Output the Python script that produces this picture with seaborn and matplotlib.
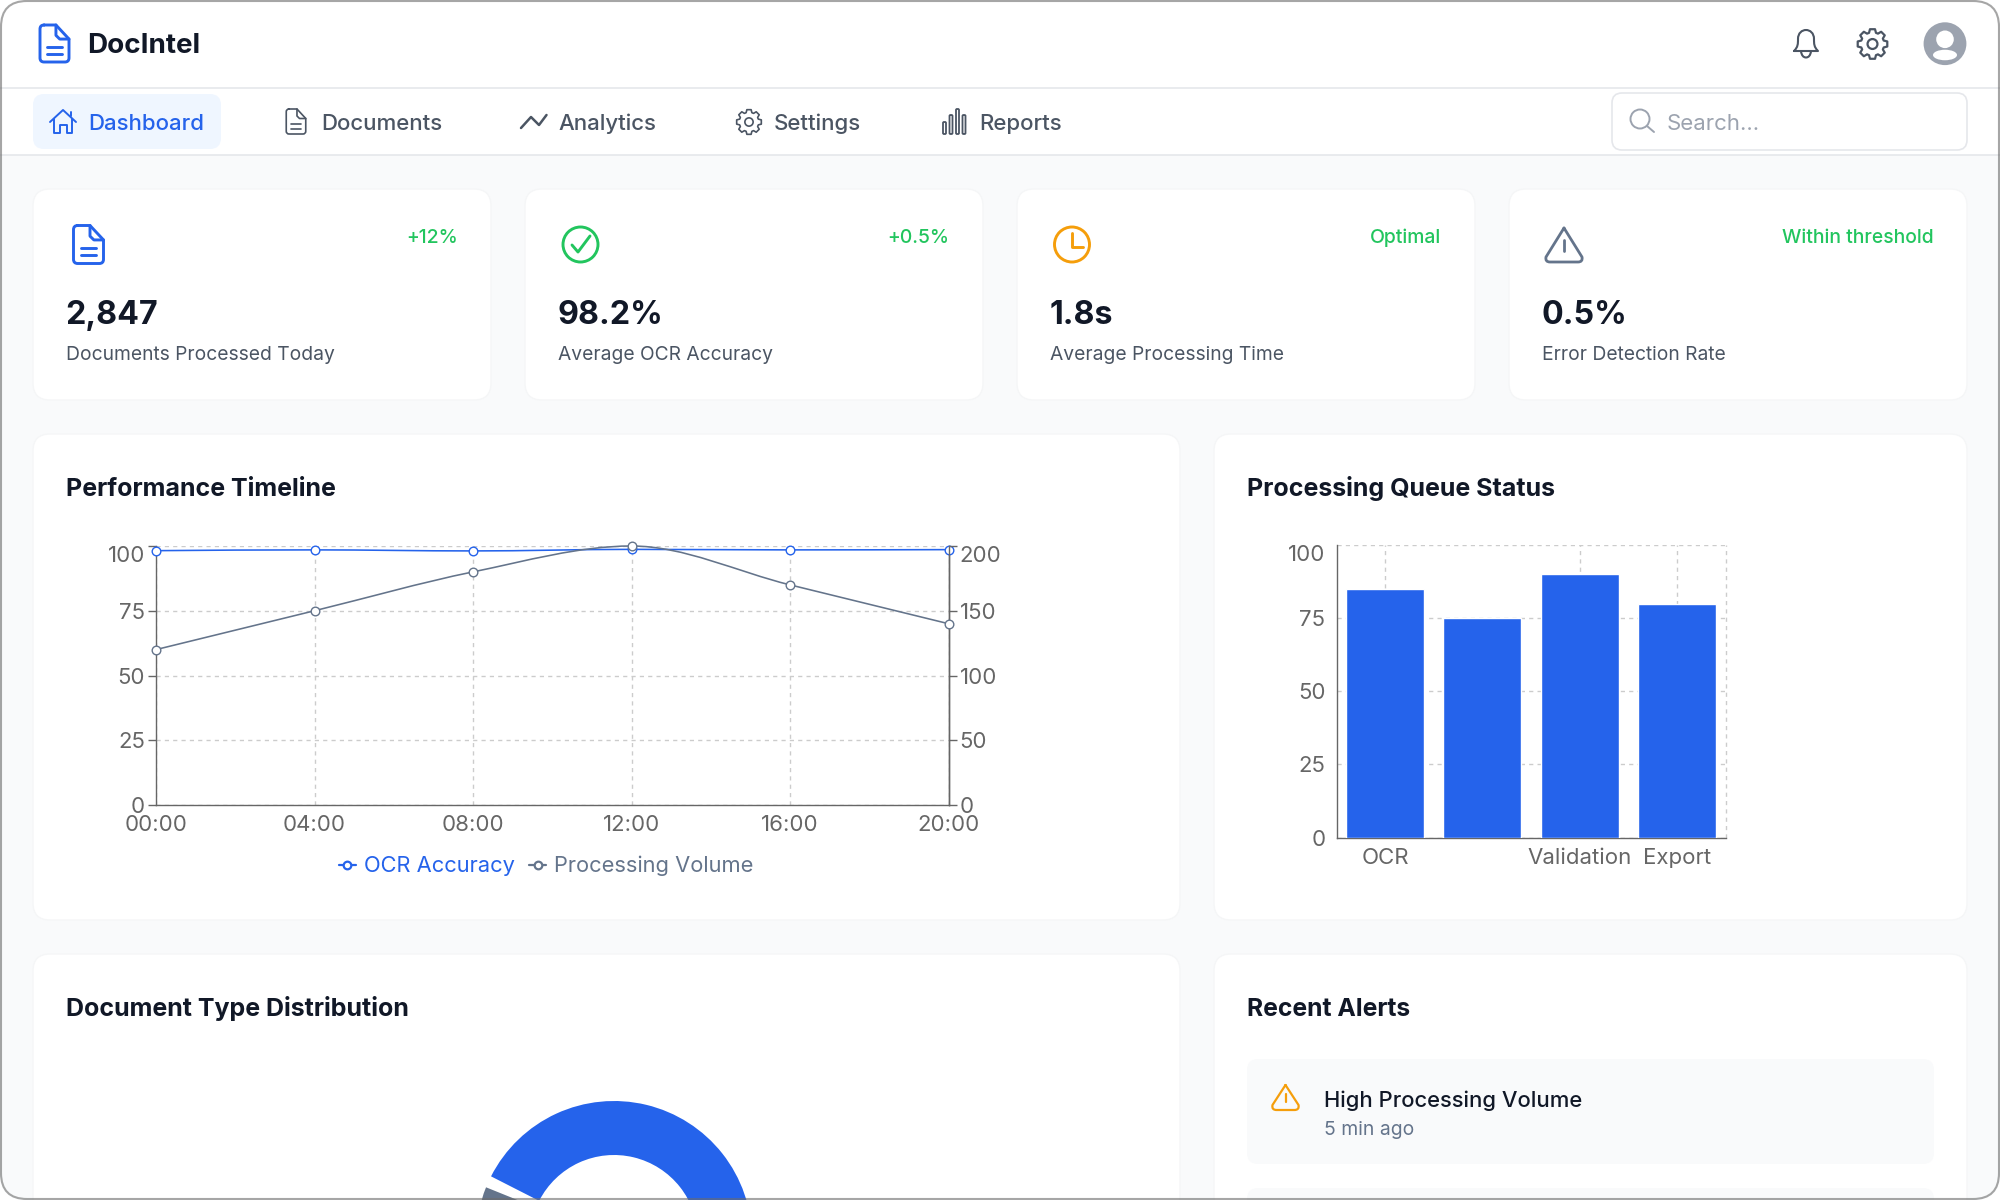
import numpy as np
import matplotlib
matplotlib.use("Agg")
import matplotlib.pyplot as plt
from matplotlib.patches import FancyBboxPatch, Circle, PathPatch, Rectangle, Polygon, Ellipse
from matplotlib.path import Path
from matplotlib.lines import Line2D
import seaborn as sns

# ---------- data ----------
time_labels = ["00:00", "04:00", "08:00", "12:00", "16:00", "20:00"]
ocr_accuracy = [98.2, 98.5, 98.1, 98.7, 98.5, 98.6]
processing_volume = [120, 150, 180, 200, 170, 140]
left_ticks = [0, 25, 50, 75, 100]
right_ticks = [0, 50, 100, 150, 200]

queue_stages = ["OCR", " ", "Validation", "Export"]
queue_values = [85, 75, 90, 80]
queue_ticks = [0, 25, 50, 75, 100]

doc_type_values = [45, 25, 15, 15]

nav_labels = ["Dashboard", "Documents", "Analytics", "Settings", "Reports"]
kpi_values = ["2,847", "98.2%", "1.8s", "0.5%"]
kpi_labels = ["Documents Processed Today", "Average OCR Accuracy",
              "Average Processing Time", "Error Detection Rate"]
kpi_badges = ["+12%", "+0.5%", "Optimal", "Within threshold"]

# ---------- style ----------
BLUE = "#2563eb"
SLATE = "#64748b"
DARK = "#111827"
GRAY = "#4b5563"
GREEN = "#22c55e"
AMBER = "#f59e0b"
MUTED = "#9ca3af"
AXIS = "#666666"
GRID = "#cccccc"
CARD_EDGE = "#f5f6f7"

sns.set_theme(style="white")
plt.rcParams["font.family"] = ["Inter", "DejaVu Sans"]
plt.rcParams["axes.unicode_minus"] = False

W, H = 2000, 1200
fig = plt.figure(figsize=(W / 100, H / 100), dpi=100, facecolor="white")


def axes_px(left, top, right, bottom, **kw):
    return fig.add_axes([left / W, 1 - bottom / H, (right - left) / W, (bottom - top) / H], **kw)


ui = axes_px(0, 0, W, H)
ui.set_xlim(0, W)
ui.set_ylim(H, 0)
ui.axis("off")
ui.set_zorder(0)


def box(x0, y0, x1, y1, r, fc, ec="none", lw=0, z=1):
    p = FancyBboxPatch((x0, y0), x1 - x0, y1 - y0,
                       boxstyle=f"round,pad=0,rounding_size={r}",
                       fc=fc, ec=ec, lw=lw, zorder=z)
    ui.add_patch(p)
    return p


def txt(x, y, s, size, color, weight="normal", ha="left"):
    ui.text(x, y, s, fontsize=size, color=color, fontweight=weight, ha=ha, va="baseline", zorder=5)


def stroke(xs, ys, color, lw, z=4):
    ui.plot(xs, ys, color=color, lw=lw, solid_capstyle="round", solid_joinstyle="round", zorder=z)


def path_stroke(verts, codes, color, lw, z=4):
    ui.add_patch(PathPatch(Path(verts, codes), fc="none", ec=color, lw=lw,
                           capstyle="round", joinstyle="round", zorder=z))


def doc_icon(cx, cy, w, h, color, lw):
    x0, y0 = cx - w / 2, cy - h / 2
    P = lambda a, b: (x0 + a * w, y0 + b * h)
    M, L, Q = Path.MOVETO, Path.LINETO, Path.CURVE3
    verts = [P(.14, 0), P(.55, 0), P(1, .38), P(1, .89), P(1, 1), P(.86, 1), P(.14, 1), P(0, 1),
             P(0, .89), P(0, .11), P(0, 0), P(.14, 0)]
    codes = [M, L, L, L, Q, Q, L, Q, Q, L, Q, Q]
    path_stroke(verts, codes, color, lw)
    fold = np.array([P(.55, 0), P(.55, .28), P(.68, .38), P(1, .38)])
    stroke(fold[:, 0], fold[:, 1], color, lw)
    for b in (.6, .78):
        a0, a1 = P(.25, b), P(.75, b)
        stroke([a0[0], a1[0]], [a0[1], a1[1]], color, lw)


def gear_icon(cx, cy, R, color, lw):
    n = 8
    ang = []
    rad = []
    for i in range(n):
        c = 2 * np.pi * i / n - np.pi / 2
        for d, r in ((-.30, .78), (-.17, 1.0), (.17, 1.0), (.30, .78)):
            ang.append(c + d)
            rad.append(r * R)
    ang, rad = np.array(ang), np.array(rad)
    xs = cx + rad * np.cos(ang)
    ys = cy + rad * np.sin(ang)
    ui.add_patch(Polygon(np.c_[xs, ys], closed=True, fc="none", ec=color, lw=lw, joinstyle="round", zorder=4))
    ui.add_patch(Circle((cx, cy), R * .33, fc="none", ec=color, lw=lw, zorder=4))


def house_icon(cx, cy, color, lw):
    xs = np.array([-13, 0, 13])
    ys = np.array([0, -12, 0])
    stroke(cx + xs, cy + ys, color, lw)
    wall = np.array([(-9, -3), (-9, 11), (-3.5, 11), (-3.5, 3), (3.5, 3), (3.5, 11), (9, 11), (9, -3)])
    stroke(cx + wall[:, 0], cy + wall[:, 1], color, lw)
    stroke([cx + 8, cx + 8], [cy - 10, cy - 6], color, lw)


def tri_icon(cx, y0, y1, w, color, lw):
    M, L, Q = Path.MOVETO, Path.LINETO, Path.CURVE3
    h = y1 - y0
    verts = [(cx, y0), (cx + w / 2, y1 - 5), (cx + w / 2 + 1, y1), (cx + w / 2 - 4, y1),
             (cx - w / 2 + 4, y1), (cx - w / 2 - 1, y1), (cx - w / 2, y1 - 5), (cx, y0)]
    codes = [M, L, Q, Q, L, Q, Q, L]
    path_stroke(verts, codes, color, lw)
    stroke([cx, cx], [y0 + h * .36, y0 + h * .68], color, lw)
    stroke([cx, cx], [y0 + h * .82, y0 + h * .83], color, lw)


# ---------- page ----------
frame = FancyBboxPatch((0, 0), W, H, boxstyle="round,pad=0,rounding_size=26", fc="#f9fafb", ec="none", zorder=0)
ui.add_patch(frame)
header = Rectangle((0, 0), W, 155, fc="white", ec="none", zorder=0.5)
ui.add_patch(header)
header.set_clip_path(frame)
ui.plot([0, W], [88, 88], color="#e5e7eb", lw=1.2, zorder=1)
ui.plot([0, W], [155, 155], color="#e5e7eb", lw=1.2, zorder=1)

# header
doc_icon(54.5, 43.5, 29, 37, BLUE, 2.1)
txt(87.5, 53, "DocIntel", 20, DARK, "bold")

M, L, Q, C = Path.MOVETO, Path.LINETO, Path.CURVE3, Path.CURVE4
path_stroke([(1794, 51), (1798, 47), (1798, 44), (1798, 39), (1798, 33), (1802, 30), (1806, 30),
             (1810, 30), (1814, 33), (1814, 39), (1814, 44), (1814, 47), (1818, 51), (1794, 51)],
            [M, C, C, C, C, C, C, C, C, C, C, C, C, L], GRAY, 1.5)
path_stroke([(1801, 51.5), (1802, 57.5), (1806, 57.5), (1810, 57.5), (1811, 51.5)], [M, Q, Q, Q, Q], GRAY, 1.5)
gear_icon(1872.5, 44, 15, GRAY, 1.6)

ax0, ay0 = 1945, 43.7
ui.add_patch(Circle((ax0, ay0), 21.4, fc=MUTED, ec="none", zorder=3))
ui.add_patch(Circle((ax0, 39.3), 8.8, fc="white", ec="none", zorder=4))
ui.add_patch(Ellipse((ax0, 55), 24, 10.5, fc="white", ec="none", zorder=4))

# nav
box(33, 94, 221, 149, 11, "#eff6ff")
nav_x = [88.5, 321, 558.5, 774, 979]
for i, (x, s) in enumerate(zip(nav_x, nav_labels)):
    txt(x, 130, s, 16, BLUE if i == 0 else GRAY, "medium")
house_icon(63, 122, BLUE, 1.4)
doc_icon(296, 121.5, 19.5, 25, GRAY, 1.2)
zig = np.array([(521, 128), (531, 117), (539, 125), (546.5, 115)])
stroke(zig[:, 0], zig[:, 1], GRAY, 1.8)
gear_icon(749, 122, 12.5, GRAY, 1.2)
for bar_x, bar_top in zip([944.5, 951, 957.5, 964], [122, 115, 109, 115]):
    ui.add_patch(FancyBboxPatch((bar_x - 1.5, bar_top), 3, 134 - bar_top, boxstyle="round,pad=0,rounding_size=1",
                                fc="none", ec=GRAY, lw=1.3, zorder=4))

box(1612, 93, 1967, 150, 10, "white", "#e5e7eb", 1.2)
ui.add_patch(Circle((1640, 119), 9.5, fc="none", ec=MUTED, lw=1.4, zorder=4))
stroke([1647, 1654], [126, 132], MUTED, 1.4)
txt(1666.5, 130, "Search...", 16, MUTED)

# KPI cards
card_l = [33, 525, 1017, 1509]
card_r = [491, 983, 1475, 1967]
for l, r, val, lab, badge in zip(card_l, card_r, kpi_values, kpi_labels, kpi_badges):
    box(l, 189, r, 400, 17, "white", CARD_EDGE, 1)
    txt(l + 32.5, 324, val, 23.2, DARK, "bold")
    txt(l + 33, 360, lab, 13.87, GRAY)
    txt(r - 33.5, 243, badge, 13.95, GREEN, "medium", ha="right")

doc_icon(88.5, 244.5, 30, 38, BLUE, 2.1)
ui.add_patch(Circle((580.5, 244.5), 17.5, fc="none", ec=GREEN, lw=2.1, zorder=4))
stroke([572, 578, 590], [245, 252, 236], GREEN, 2.1)
ui.add_patch(Circle((1072, 244.5), 17.5, fc="none", ec=AMBER, lw=2.1, zorder=4))
stroke([1072, 1072, 1083], [233, 247, 247], AMBER, 2.1)
tri_icon(1564, 228, 262, 36, SLATE, 2.0)

# chart cards
box(33, 434, 1180, 920, 17, "white", CARD_EDGE, 1)
box(1214, 434, 1967, 920, 17, "white", CARD_EDGE, 1)
box(33, 954, 1180, 1240, 17, "white", CARD_EDGE, 1)
box(1214, 954, 1967, 1240, 17, "white", CARD_EDGE, 1)
txt(66, 496, "Performance Timeline", 18, DARK, "bold")
txt(1247, 496, "Processing Queue Status", 18, DARK, "bold")
txt(66, 1016, "Document Type Distribution", 18, DARK, "bold")
txt(1247, 1016, "Recent Alerts", 17.8, DARK, "bold")

# alerts
box(1247, 1059, 1934, 1164, 11, "#f9fafb", z=2)
box(1247, 1188, 1934, 1260, 11, "#f9fafb", z=2)
tri_icon(1285.5, 1085, 1110, 26, AMBER, 1.6)
txt(1324.5, 1107, "High Processing Volume", 15.85, DARK, "medium")
txt(1324.5, 1135, "5 min ago", 13.95, SLATE)


# ---------- line chart ----------
def monotone_path(xv, yv):
    """Cubic segments of a monotone curve running through the given points."""
    xv, yv = np.asarray(xv, float), np.asarray(yv, float)
    n = len(xv)
    s = np.diff(yv) / np.diff(xv)
    t = np.zeros(n)
    for i in range(1, n - 1):
        h0, h1 = xv[i] - xv[i - 1], xv[i + 1] - xv[i]
        p = (s[i - 1] * h1 + s[i] * h0) / (h0 + h1)
        t[i] = (np.sign(s[i - 1]) + np.sign(s[i])) * min(abs(s[i - 1]), abs(s[i]), .5 * abs(p))
    t[0] = (3 * s[0] - t[1]) / 2
    t[-1] = (3 * s[-1] - t[-2]) / 2
    verts = [(xv[0], yv[0])]
    codes = [Path.MOVETO]
    for i in range(n - 1):
        d = (xv[i + 1] - xv[i]) / 3
        verts += [(xv[i] + d, yv[i] + d * t[i]), (xv[i + 1] - d, yv[i + 1] - d * t[i + 1]), (xv[i + 1], yv[i + 1])]
        codes += [Path.CURVE4] * 3
    return Path(verts, codes)


def style_axis(ax, bottom_pad, side_pad):
    ax.tick_params(axis="both", length=5.8, width=1, color=AXIS, labelcolor=AXIS, labelsize=16)
    ax.tick_params(axis="x", pad=bottom_pad)
    ax.tick_params(axis="y", pad=side_pad)
    ax.set_xlabel("")
    ax.set_ylabel("")
    ax.spines["top"].set_visible(False)
    for sp in ax.spines.values():
        sp.set_color(AXIS)
        sp.set_linewidth(1)


lc = axes_px(156, 546, 948.5, 805)
lc.patch.set_alpha(0)
lc.set_zorder(2)
rc = lc.twinx()
marker_kw = dict(estimator=None, sort=False, legend=False, linewidth=0, marker="o", markersize=6.2,
                 markerfacecolor="white", markeredgewidth=1, clip_on=False, zorder=4)
sns.lineplot(x=time_labels, y=ocr_accuracy, ax=lc, color=BLUE, markeredgecolor=BLUE, **marker_kw)
sns.lineplot(x=time_labels, y=processing_volume, ax=rc, color=SLATE, markeredgecolor=SLATE, **marker_kw)
positions = np.arange(len(time_labels))
lc.add_patch(PathPatch(monotone_path(positions, ocr_accuracy), fc="none", ec=BLUE, lw=1.15, zorder=3, clip_on=False))
rc.add_patch(PathPatch(monotone_path(positions, processing_volume), fc="none", ec=SLATE, lw=1.15, zorder=3, clip_on=False))
lc.set_xlim(0, len(time_labels) - 1)
lc.set_ylim(0, 100)
rc.set_ylim(0, 200)
lc.set_yticks(left_ticks)
rc.set_yticks(right_ticks)
lc.grid(True, color=GRID, lw=1, ls=(0, (3, 3)))
lc.set_axisbelow(True)
rc.grid(False)
style_axis(lc, 1.5, 2.2)
style_axis(rc, 1.5, 2.2)
rc.spines["left"].set_visible(False)
rc.spines["bottom"].set_visible(False)
lc.yaxis.get_major_ticks()[-1].label1.set_va("top")
rc.yaxis.get_major_ticks()[-1].label2.set_va("top")
handles = [
    Line2D([], [], color=BLUE, lw=1.6, marker="o", ms=5.5, mfc="white", mec=BLUE, mew=1.6, label="OCR Accuracy"),
    Line2D([], [], color=SLATE, lw=1.6, marker="o", ms=5.5, mfc="white", mec=SLATE, mew=1.6, label="Processing Volume"),
]
rc.legend(handles=handles, loc="center", bbox_to_anchor=(546 / W, 1 - 866 / H), bbox_transform=fig.transFigure,
          ncol=2, frameon=False, fontsize=15.75, labelcolor=[BLUE, SLATE], handlelength=.8, handletextpad=.35,
          columnspacing=.65, borderpad=0)

# ---------- bar chart ----------
bc = axes_px(1336.5, 545, 1725.5, 837.5)
bc.patch.set_alpha(0)
bc.set_zorder(2)
sns.barplot(x=queue_stages, y=queue_values, ax=bc, color=BLUE, saturation=1, width=.8, zorder=3)
bc.set_xlim(-.5, len(queue_stages) - .5)
bc.set_ylim(0, 100)
bc.set_yticks(queue_ticks)
shown = [i for i, s in enumerate(queue_stages) if s.strip()]
bc.set_xticks(shown, [queue_stages[i] for i in shown])
bc.grid(True, color=GRID, lw=1, ls=(0, (3, 3)))
bc.set_axisbelow(True)
bc.axvline(len(queue_stages) - .5, color=GRID, lw=1, ls=(0, (3, 3)), zorder=1, clip_on=False)
style_axis(bc, 1.5, 2.2)
bc.spines["right"].set_visible(False)
bc.yaxis.get_major_ticks()[-1].label1.set_va("top")

# ---------- donut (cut off by the window, as in the reference) ----------
dn = axes_px(33, 954, 1180, 1200)
dn.set_zorder(1)
dn.patch.set_alpha(0)
wedges, _ = dn.pie(doc_type_values, colors=[BLUE, SLATE, AMBER, GREEN], radius=138, center=(614, -39),
                   startangle=0, frame=True, wedgeprops=dict(width=54, linewidth=0))
pad = 5
free = 360 - pad * len(doc_type_values)
start = 0
for wedge, v in zip(wedges, doc_type_values):
    span = free * v / sum(doc_type_values)
    wedge.set_theta1(start)
    wedge.set_theta2(start + span)
    start += span + pad
dn.set_xlim(33, 1180)
dn.set_ylim(0, 246)
dn.axis("off")

# ---------- window border ----------
top = axes_px(0, 0, W, H)
top.set_xlim(0, W)
top.set_ylim(H, 0)
top.axis("off")
top.set_zorder(10)
top.patch.set_alpha(0)
top.add_patch(FancyBboxPatch((1, 1), W - 2, H - 2, boxstyle="round,pad=0,rounding_size=26",
                             fc="none", ec="#6b6b6b", alpha=.6, lw=1.5, clip_on=False))

fig.savefig("out.png", dpi=100, facecolor="white")
